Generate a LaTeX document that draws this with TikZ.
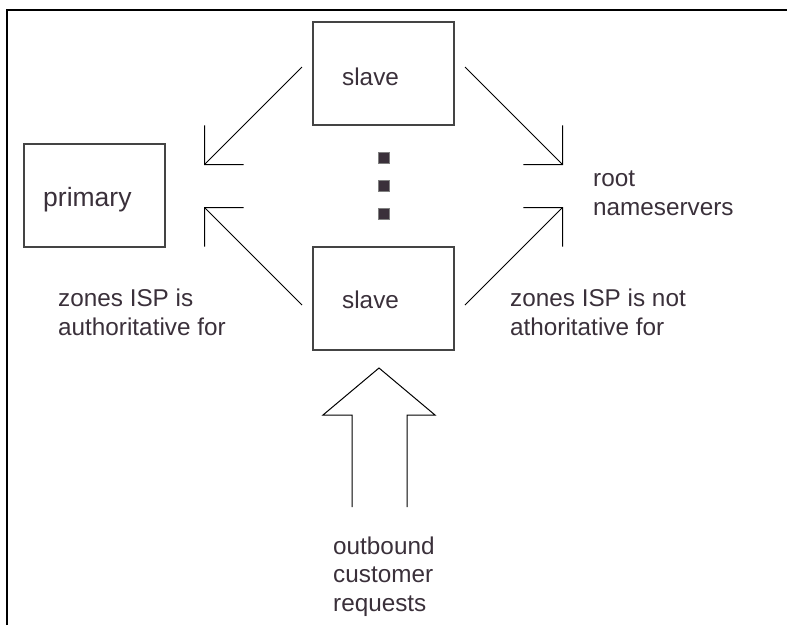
\documentclass[tikz,border=0pt]{standalone}
\usepackage{fontspec}
\setmainfont{Liberation Sans}
\usetikzlibrary{arrows.meta}
\definecolor{inkc}{HTML}{3A303A}
\definecolor{boxc}{HTML}{444444}
\begin{document}
\begin{tikzpicture}[x=1pt,y=-1pt,
  box/.style={draw=boxc,line width=1.5pt,inner sep=0pt,minimum width=141pt,minimum height=103pt},
  lbl/.style={text=inkc,font=\fontsize{24.3}{28.5}\selectfont,inner sep=0pt,anchor=base west,align=left},
  ptr/.style={draw=black,line width=1pt,-{Straight Barb[length=27.6pt,width=55.2pt]}},
  dotbox/.style={draw=gray,fill=inkc,minimum size=11pt,inner sep=0pt,line width=0.8pt}]

\useasboundingbox (0,0) rectangle (787,625);

% frame edges
\draw[line width=2pt] (7,625) -- (7,10) -- (787,10);

% servers
\node[box] (slavetop) at (383.5,73.5) {};
\node[box] (slavebot) at (383.5,298.5) {};
\node[box] (primary) at (94.5,195.5) {};

\node[lbl] (tslavetop) at (342,85) {slave};
\node[lbl] (tslavebot) at (342,308) {slave};
\node[lbl,font=\fontsize{26.5}{30}\selectfont] (tprimary) at (43,206) {primary};

% more slaves in between
\node[dotbox] (d1) at (384,158) {};
\node[dotbox] (d2) at (384,186) {};
\node[dotbox] (d3) at (384,214) {};

% text labels (anchored on the baseline of their last line)
\node[lbl] (root) at (593,215) {root\\nameservers};
\node[lbl] (auth) at (58,335) {zones ISP is\\authoritative for};
\node[lbl] (nauth) at (510,335) {zones ISP is not\\athoritative for};
\node[lbl] (outb) at (333,611) {outbound\\customer\\requests};

% query directions
\coordinate (tlA) at (302,67);  \coordinate (tlB) at (204,165);
\coordinate (blA) at (302,305); \coordinate (blB) at (204,207);
\coordinate (trA) at (465,67);  \coordinate (trB) at (563,165);
\coordinate (brA) at (465,305); \coordinate (brB) at (563,207);
\draw[ptr] (tlA) -- (tlB);
\draw[ptr] (blA) -- (blB);
\draw[ptr] (trA) -- (trB);
\draw[ptr] (brA) -- (brB);

% incoming requests (open hollow arrow)
\draw[line width=1pt,line join=miter]
  (352,507) -- (352,415) -- (323,415) -- (379,368) -- (435,415) -- (407,415) -- (407,507);
\end{tikzpicture}
\end{document}
